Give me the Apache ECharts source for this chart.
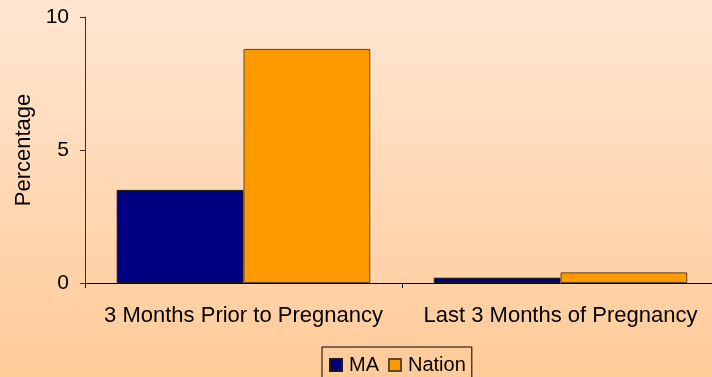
<!DOCTYPE html>
<html>
<head>
<meta charset="utf-8">
<script src="https://cdn.jsdelivr.net/npm/echarts@6/dist/echarts.min.js"></script>
<style>
  html, body { margin: 0; padding: 0; overflow: hidden; }
  /* the plot area runs a few pixels past the right edge of the window */
  #chart { width: 724px; height: 377px; }
</style>
</head>
<body>
<div id="chart"></div>
<script>
// Smoking during pregnancy: Massachusetts vs. the nation
const categories = ['3 Months Prior to Pregnancy', 'Last 3 Months of Pregnancy'];
const maValues = [3.5, 0.2];
const nationValues = [8.8, 0.4];
const yTicks = [0, 5, 10];

const FONT = '"Liberation Sans", Arial, sans-serif';

const chart = echarts.init(document.getElementById('chart'));
chart.setOption({
  animation: false,
  backgroundColor: new echarts.graphic.LinearGradient(0, 0, 0, 1, [
    { offset: 0, color: '#FFE6D2' },
    { offset: 1, color: '#FFCB98' }
  ]),
  textStyle: { fontFamily: FONT },
  grid: { left: 85, top: 17, width: 634, height: 266 },
  legend: {
    left: 322, top: 347,
    itemWidth: 12, itemHeight: 12, itemGap: 9,
    padding: [8, 6, 10, 7],
    borderColor: '#000', borderWidth: 1,
    icon: 'rect',
    textStyle: { fontSize: 20, color: '#000', fontFamily: FONT, padding: [0, 0, 0, 2] },
    data: ['MA', 'Nation']
  },
  xAxis: {
    type: 'category',
    data: categories,
    axisLine: { lineStyle: { color: '#000', width: 1 } },
    axisTick: { show: true, interval: 0, length: 5, lineStyle: { color: '#000' } },
    axisLabel: { color: '#000', fontSize: 22, margin: 22, interval: 0, hideOverlap: false, fontFamily: FONT },
    splitLine: { show: false }
  },
  yAxis: {
    type: 'value',
    min: yTicks[0], max: yTicks[yTicks.length - 1], interval: 5,
    name: 'Percentage',
    nameLocation: 'middle',
    nameGap: 50,
    nameRotate: 90,
    nameTextStyle: { color: '#000', fontSize: 22, fontFamily: FONT },
    axisLine: { show: true, lineStyle: { color: '#333', width: 1 } },
    axisTick: { show: true, length: 5, lineStyle: { color: '#333' } },
    axisLabel: { color: '#000', fontSize: 21, margin: 16, fontFamily: FONT },
    splitLine: { show: false }
  },
  series: [
    {
      name: 'MA', type: 'bar', data: maValues,
      barGap: '0%', barCategoryGap: '20%',
      itemStyle: { color: '#000080', borderColor: '#1a1a1a', borderWidth: 1 }
    },
    {
      name: 'Nation', type: 'bar', data: nationValues,
      itemStyle: { color: '#FF9900', borderColor: '#5a4a2a', borderWidth: 1 }
    }
  ]
});
</script>
</body>
</html>
